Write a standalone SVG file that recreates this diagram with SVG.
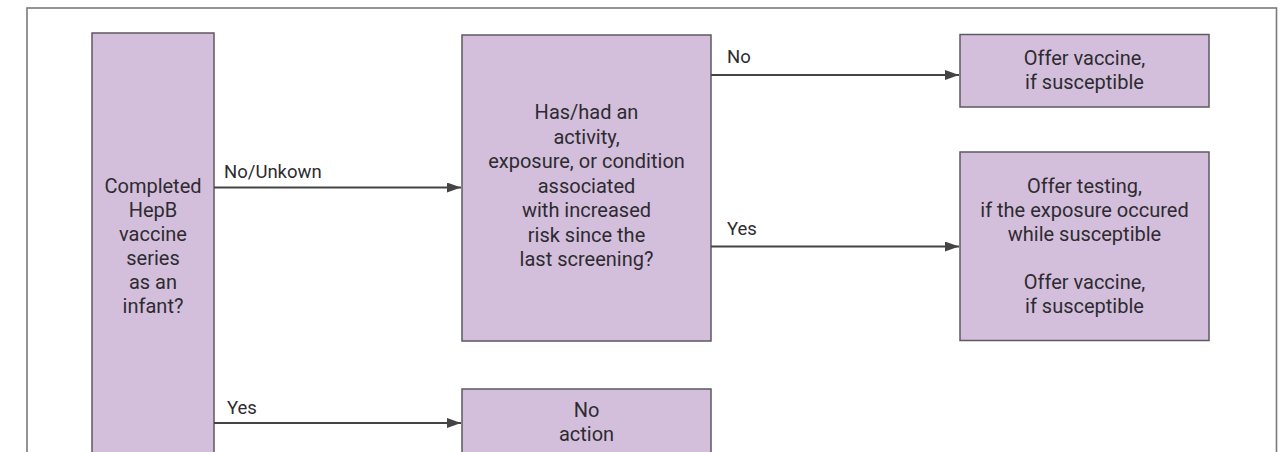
<svg xmlns="http://www.w3.org/2000/svg" width="1284" height="452" viewBox="0 0 1284 452">
<style>
.frame{fill:none;stroke:#7a7a7a;stroke-width:1.6}
.box{fill:#d3bfdc;stroke:#5e5a60;stroke-width:1.5}
.t{font-family:Roboto,"Liberation Sans",sans-serif;font-size:20px;fill:#2e2b30;text-anchor:middle}
.lbl{font-family:Roboto,"Liberation Sans",sans-serif;font-size:18.5px;fill:#2e2b30}
.con{stroke:#444;stroke-width:2;fill:none;marker-end:url(#ah)}
</style>
<defs>
<marker id="ah" viewBox="0 0 14 10" refX="14" refY="5" markerWidth="14" markerHeight="10" markerUnits="userSpaceOnUse" orient="auto">
<path d="M0,0 L14,5 L0,10 Z" fill="#444"/>
</marker>
</defs>
<rect width="1284" height="452" fill="#fff"/>
<rect class="frame" x="27" y="8" width="1249.5" height="460"/>
<g id="q1">
<rect class="box" x="92" y="33" width="122" height="440"/>
<text class="t"><tspan x="153" y="193">Completed</tspan><tspan x="153" y="217">HepB</tspan><tspan x="153" y="241">vaccine</tspan><tspan x="153" y="265">series</tspan><tspan x="153" y="289">as an</tspan><tspan x="153" y="313">infant?</tspan></text>
</g>
<g id="q2">
<rect class="box" x="462" y="35" width="249" height="306"/>
<text class="t"><tspan x="586.5" y="119">Has/had an</tspan><tspan x="586.5" y="143.5">activity,</tspan><tspan x="586.5" y="168">exposure, or condition</tspan><tspan x="586.5" y="192.5">associated</tspan><tspan x="586.5" y="217">with increased</tspan><tspan x="586.5" y="241.5">risk since the</tspan><tspan x="586.5" y="266">last screening?</tspan></text>
</g>
<g id="vaccine">
<rect class="box" x="960" y="34.5" width="249" height="72.5"/>
<text class="t"><tspan x="1084.5" y="65">Offer vaccine,</tspan><tspan x="1084.5" y="89">if susceptible</tspan></text>
</g>
<g id="testing">
<rect class="box" x="960" y="152" width="249" height="188.5"/>
<text class="t"><tspan x="1084.5" y="193">Offer testing,</tspan><tspan x="1084.5" y="217">if the exposure occured</tspan><tspan x="1084.5" y="241">while susceptible</tspan><tspan x="1084.5" y="289">Offer vaccine,</tspan><tspan x="1084.5" y="313">if susceptible</tspan></text>
</g>
<g id="noaction">
<rect class="box" x="462" y="389" width="249" height="80"/>
<text class="t"><tspan x="586.5" y="417">No</tspan><tspan x="586.5" y="441">action</tspan></text>
</g>
<g id="connectors">
<path class="con" d="M214,187.5 H461"/>
<text class="lbl" x="224" y="178">No/Unkown</text>
<path class="con" d="M711,75 H959"/>
<text class="lbl" x="727" y="63">No</text>
<path class="con" d="M711,246.5 H959"/>
<text class="lbl" x="727" y="235">Yes</text>
<path class="con" d="M214,423 H461"/>
<text class="lbl" x="227" y="414">Yes</text>
</g>
</svg>
